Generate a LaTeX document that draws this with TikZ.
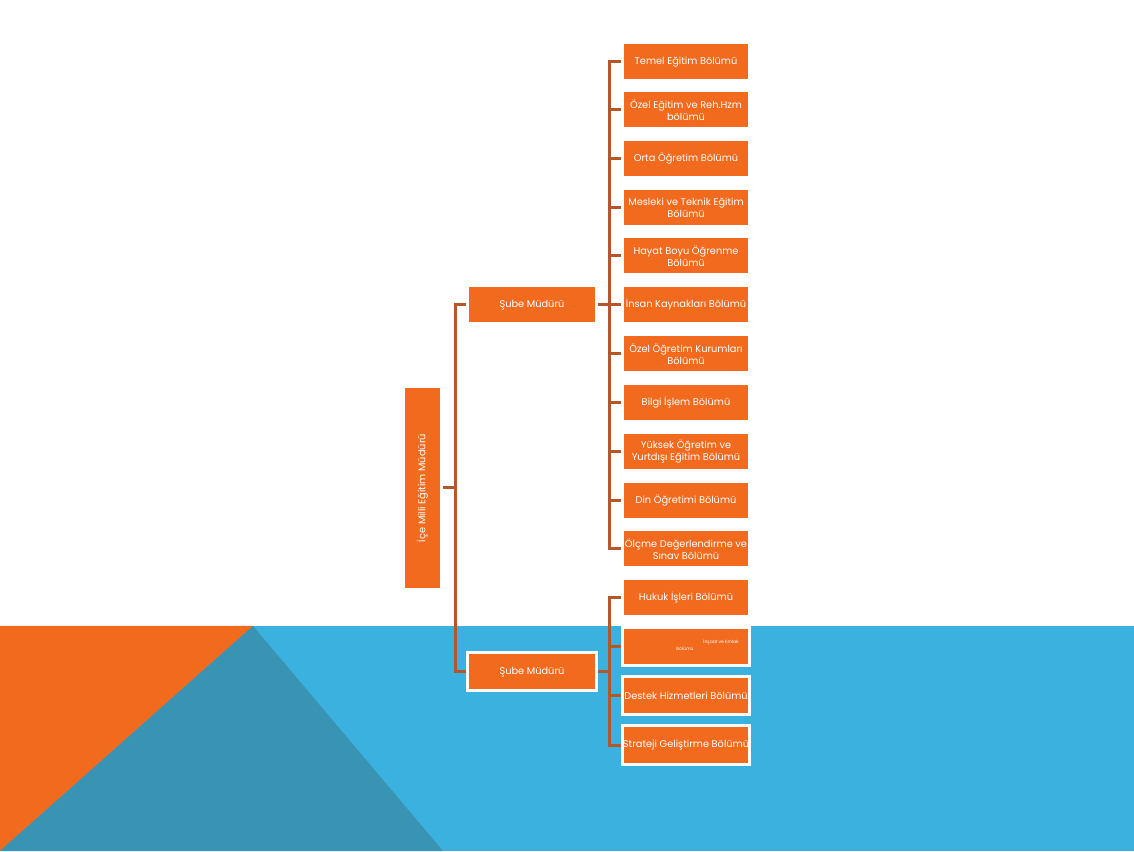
\documentclass[tikz,border=0pt]{standalone}
\usepackage{fontspec}
\setmainfont{Poppins}
\usetikzlibrary{calc}
\definecolor{org}{HTML}{F26A1E}
\definecolor{sky}{HTML}{3BB1DF}
\definecolor{tealb}{HTML}{3993B3}
\definecolor{brn}{HTML}{B4582B}
\begin{document}
\begin{tikzpicture}[x=1pt,y=1pt,
 box/.style={fill=org, draw=white, line width=3pt, minimum width=127pt, minimum height=38pt, inner sep=0pt, text=white, font=\fontsize{9.8}{12}\selectfont, align=center},
 subebox/.style={box, minimum width=129pt},
 rootbox/.style={box, rotate=90, minimum width=203pt, minimum height=38pt},
 tiny/.style={inner sep=0pt, text=white, font=\fontsize{4.5}{5}\selectfont},
 conn/.style={draw=brn, line width=3pt}]
\useasboundingbox (0,0) rectangle (1134,851);
% background
\fill[sky] (0,0) rectangle (1134,225);
\fill[org] (0,225) -- (253,225) -- (0,0) -- cycle;
\fill[tealb] (253,225) -- (443,0) -- (0,0) -- cycle;
% nodes
\node[rootbox] (root) at (422.5,363) {İçe Milli Eğitim Müdürü};
\node[subebox] (s1) at (532,546) {Şube Müdürü};
\node[subebox] (s2) at (532,179) {Şube Müdürü};
\node[box] (b1) at (686,789) {Temel Eğitim Bölümü};
\node[box] (b2) at (686,741) {Özel Eğitim ve Reh.Hzm\\bölümü};
\node[box] (b3) at (686,692) {Orta Öğretim Bölümü};
\node[box] (b4) at (686,643) {Mesleki ve Teknik Eğitim\\Bölümü};
\node[box] (b5) at (686,595) {Hayat Boyu Öğrenme\\Bölümü};
\node[box] (b6) at (686,546) {İnsan Kaynakları Bölümü};
\node[box] (b7) at (686,497) {Özel Öğretim Kurumları\\Bölümü};
\node[box] (b8) at (686,448) {Bilgi İşlem Bölümü};
\node[box] (b9) at (686,399) {Yüksek  Öğretim ve\\Yurtdışı Eğitim Bölümü};
\node[box] (b10) at (686,350) {Din Öğretimi Bölümü};
\node[box] (b11) at (686,302) {Ölçme Değerlendirme ve\\Sınav Bölümü};
\node[box] (b12) at (686,253) {Hukuk İşleri Bölümü};
\node[box] (b13) at (686,204) {};
\node[tiny] (t13a) at (721,209) {İnşaat ve Emlak};
\node[tiny] (t13b) at (685,202) {Bölümü};
\node[box] (b14) at (686,155) {Destek Hizmetleri Bölümü};
\node[box] (b15) at (686,106) {Strateji Geliştirme Bölümü};
% connectors
\foreach \n in {s1,s2}
  \draw[conn] (root.south) -- ++(12,0) |- (\n.west);
\foreach \n in {b1,b2,b3,b4,b5,b6,b7,b8,b9,b10,b11}
  \draw[conn] (s1.east) -- ++(11,0) |- (\n.west);
\foreach \n in {b12,b13,b14,b15}
  \draw[conn] (s2.east) -- ++(11,0) |- (\n.west);
\end{tikzpicture}
\end{document}
